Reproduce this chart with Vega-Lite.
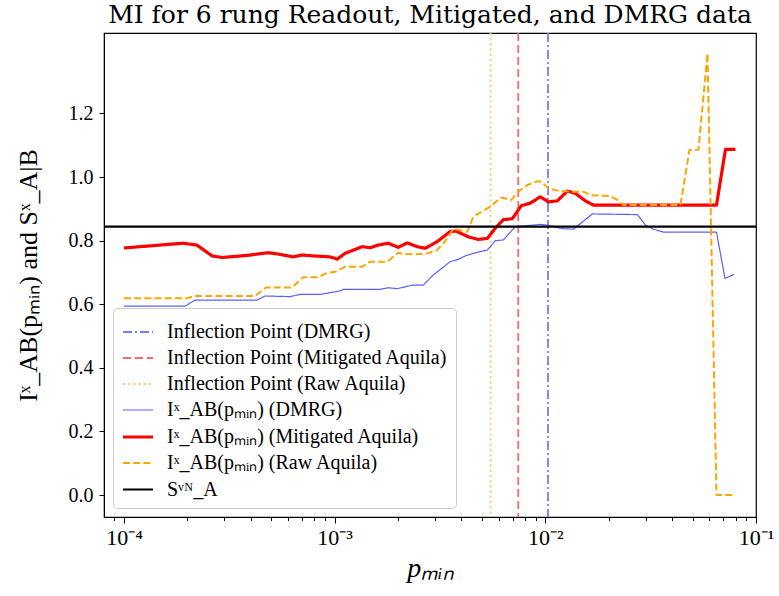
{
  "$schema": "https://vega.github.io/schema/vega-lite/v6.json",
  "autosize": {"type": "none"},
  "padding": {"left": 104, "top": 33, "right": 23, "bottom": 79},
  "width": 652,
  "height": 484,
  "background": "white",
  "title": {
    "text": "MI for 6 rung Readout, Mitigated, and DMRG data",
    "font": "DejaVu Serif",
    "fontSize": 25,
    "fontWeight": "normal",
    "color": "black",
    "offset": 4
  },
  "config": {
    "font": "Liberation Serif",
    "view": {"stroke": "black", "strokeWidth": 1.2},
    "axis": {
      "grid": false,
      "domainColor": "black",
      "tickColor": "black",
      "labelColor": "black",
      "titleColor": "black",
      "labelFont": "Liberation Serif",
      "titleFont": "Liberation Serif",
      "labelFontSize": 20,
      "titleFontWeight": "normal",
      "labelOverlap": false,
      "labelFlush": false
    },
    "legend": {
      "orient": "bottom-left",
      "offset": 9,
      "fillColor": "white",
      "strokeColor": "#cccccc",
      "cornerRadius": 4,
      "padding": 8,
      "labelFont": "Liberation Serif",
      "labelFontSize": 20,
      "labelColor": "black",
      "labelLimit": 0,
      "symbolType": "stroke",
      "symbolSize": 900,
      "labelOffset": 12,
      "rowPadding": -3
    }
  },
  "datasets": {
    "inflection": [
      {"series": "Inflection Point (DMRG)", "p": 0.0103},
      {"series": "Inflection Point (Mitigated Aquila)", "p": 0.00744},
      {"series": "Inflection Point (Raw Aquila)", "p": 0.0055}
    ],
    "entropy": [
      {"series": "Sᵛᴺ_A", "v": 0.844}
    ],
    "curves": [
      {"series": "Iˣ_AB(pₘᵢₙ) (DMRG)", "p": 0.0001, "v": 0.594},
      {"series": "Iˣ_AB(pₘᵢₙ) (DMRG)", "p": 0.000195, "v": 0.594},
      {"series": "Iˣ_AB(pₘᵢₙ) (DMRG)", "p": 0.000217, "v": 0.613},
      {"series": "Iˣ_AB(pₘᵢₙ) (DMRG)", "p": 0.000428, "v": 0.613},
      {"series": "Iˣ_AB(pₘᵢₙ) (DMRG)", "p": 0.000468, "v": 0.626},
      {"series": "Iˣ_AB(pₘᵢₙ) (DMRG)", "p": 0.000614, "v": 0.624},
      {"series": "Iˣ_AB(pₘᵢₙ) (DMRG)", "p": 0.000686, "v": 0.631},
      {"series": "Iˣ_AB(pₘᵢₙ) (DMRG)", "p": 0.000854, "v": 0.631},
      {"series": "Iˣ_AB(pₘᵢₙ) (DMRG)", "p": 0.001062, "v": 0.642},
      {"series": "Iˣ_AB(pₘᵢₙ) (DMRG)", "p": 0.001098, "v": 0.647},
      {"series": "Iˣ_AB(pₘᵢₙ) (DMRG)", "p": 0.001646, "v": 0.647},
      {"series": "Iˣ_AB(pₘᵢₙ) (DMRG)", "p": 0.001796, "v": 0.652},
      {"series": "Iˣ_AB(pₘᵢₙ) (DMRG)", "p": 0.001981, "v": 0.649},
      {"series": "Iˣ_AB(pₘᵢₙ) (DMRG)", "p": 0.002334, "v": 0.66},
      {"series": "Iˣ_AB(pₘᵢₙ) (DMRG)", "p": 0.002633, "v": 0.66},
      {"series": "Iˣ_AB(pₘᵢₙ) (DMRG)", "p": 0.002937, "v": 0.692},
      {"series": "Iˣ_AB(pₘᵢₙ) (DMRG)", "p": 0.003539, "v": 0.734},
      {"series": "Iˣ_AB(pₘᵢₙ) (DMRG)", "p": 0.003862, "v": 0.741},
      {"series": "Iˣ_AB(pₘᵢₙ) (DMRG)", "p": 0.00417, "v": 0.752},
      {"series": "Iˣ_AB(pₘᵢₙ) (DMRG)", "p": 0.00455, "v": 0.76},
      {"series": "Iˣ_AB(pₘᵢₙ) (DMRG)", "p": 0.00502, "v": 0.767},
      {"series": "Iˣ_AB(pₘᵢₙ) (DMRG)", "p": 0.005302, "v": 0.77},
      {"series": "Iˣ_AB(pₘᵢₙ) (DMRG)", "p": 0.005788, "v": 0.8},
      {"series": "Iˣ_AB(pₘᵢₙ) (DMRG)", "p": 0.006318, "v": 0.802},
      {"series": "Iˣ_AB(pₘᵢₙ) (DMRG)", "p": 0.0072, "v": 0.844},
      {"series": "Iˣ_AB(pₘᵢₙ) (DMRG)", "p": 0.009468, "v": 0.851},
      {"series": "Iˣ_AB(pₘᵢₙ) (DMRG)", "p": 0.01022, "v": 0.849},
      {"series": "Iˣ_AB(pₘᵢₙ) (DMRG)", "p": 0.01204, "v": 0.838},
      {"series": "Iˣ_AB(pₘᵢₙ) (DMRG)", "p": 0.01358, "v": 0.836},
      {"series": "Iˣ_AB(pₘᵢₙ) (DMRG)", "p": 0.01672, "v": 0.884},
      {"series": "Iˣ_AB(pₘᵢₙ) (DMRG)", "p": 0.02736, "v": 0.882},
      {"series": "Iˣ_AB(pₘᵢₙ) (DMRG)", "p": 0.02986, "v": 0.849},
      {"series": "Iˣ_AB(pₘᵢₙ) (DMRG)", "p": 0.03259, "v": 0.836},
      {"series": "Iˣ_AB(pₘᵢₙ) (DMRG)", "p": 0.03636, "v": 0.827},
      {"series": "Iˣ_AB(pₘᵢₙ) (DMRG)", "p": 0.06494, "v": 0.827},
      {"series": "Iˣ_AB(pₘᵢₙ) (DMRG)", "p": 0.07124, "v": 0.681},
      {"series": "Iˣ_AB(pₘᵢₙ) (DMRG)", "p": 0.07862, "v": 0.694},

      {"series": "Iˣ_AB(pₘᵢₙ) (Mitigated Aquila)", "p": 0.0001, "v": 0.777},
      {"series": "Iˣ_AB(pₘᵢₙ) (Mitigated Aquila)", "p": 0.000191, "v": 0.792},
      {"series": "Iˣ_AB(pₘᵢₙ) (Mitigated Aquila)", "p": 0.000222, "v": 0.786},
      {"series": "Iˣ_AB(pₘᵢₙ) (Mitigated Aquila)", "p": 0.000262, "v": 0.752},
      {"series": "Iˣ_AB(pₘᵢₙ) (Mitigated Aquila)", "p": 0.000292, "v": 0.747},
      {"series": "Iˣ_AB(pₘᵢₙ) (Mitigated Aquila)", "p": 0.000388, "v": 0.754},
      {"series": "Iˣ_AB(pₘᵢₙ) (Mitigated Aquila)", "p": 0.000483, "v": 0.762},
      {"series": "Iˣ_AB(pₘᵢₙ) (Mitigated Aquila)", "p": 0.000539, "v": 0.758},
      {"series": "Iˣ_AB(pₘᵢₙ) (Mitigated Aquila)", "p": 0.000635, "v": 0.749},
      {"series": "Iˣ_AB(pₘᵢₙ) (Mitigated Aquila)", "p": 0.000701, "v": 0.755},
      {"series": "Iˣ_AB(pₘᵢₙ) (Mitigated Aquila)", "p": 0.00079, "v": 0.752},
      {"series": "Iˣ_AB(pₘᵢₙ) (Mitigated Aquila)", "p": 0.000952, "v": 0.749},
      {"series": "Iˣ_AB(pₘᵢₙ) (Mitigated Aquila)", "p": 0.001028, "v": 0.742},
      {"series": "Iˣ_AB(pₘᵢₙ) (Mitigated Aquila)", "p": 0.001121, "v": 0.76},
      {"series": "Iˣ_AB(pₘᵢₙ) (Mitigated Aquila)", "p": 0.001351, "v": 0.781},
      {"series": "Iˣ_AB(pₘᵢₙ) (Mitigated Aquila)", "p": 0.001475, "v": 0.778},
      {"series": "Iˣ_AB(pₘᵢₙ) (Mitigated Aquila)", "p": 0.00161, "v": 0.786},
      {"series": "Iˣ_AB(pₘᵢₙ) (Mitigated Aquila)", "p": 0.001796, "v": 0.792},
      {"series": "Iˣ_AB(pₘᵢₙ) (Mitigated Aquila)", "p": 0.002003, "v": 0.779},
      {"series": "Iˣ_AB(pₘᵢₙ) (Mitigated Aquila)", "p": 0.002211, "v": 0.793},
      {"series": "Iˣ_AB(pₘᵢₙ) (Mitigated Aquila)", "p": 0.002466, "v": 0.781},
      {"series": "Iˣ_AB(pₘᵢₙ) (Mitigated Aquila)", "p": 0.002691, "v": 0.776},
      {"series": "Iˣ_AB(pₘᵢₙ) (Mitigated Aquila)", "p": 0.003068, "v": 0.797},
      {"series": "Iˣ_AB(pₘᵢₙ) (Mitigated Aquila)", "p": 0.003539, "v": 0.829},
      {"series": "Iˣ_AB(pₘᵢₙ) (Mitigated Aquila)", "p": 0.003777, "v": 0.83},
      {"series": "Iˣ_AB(pₘᵢₙ) (Mitigated Aquila)", "p": 0.004307, "v": 0.812},
      {"series": "Iˣ_AB(pₘᵢₙ) (Mitigated Aquila)", "p": 0.004805, "v": 0.804},
      {"series": "Iˣ_AB(pₘᵢₙ) (Mitigated Aquila)", "p": 0.005302, "v": 0.807},
      {"series": "Iˣ_AB(pₘᵢₙ) (Mitigated Aquila)", "p": 0.005788, "v": 0.839},
      {"series": "Iˣ_AB(pₘᵢₙ) (Mitigated Aquila)", "p": 0.006318, "v": 0.866},
      {"series": "Iˣ_AB(pₘᵢₙ) (Mitigated Aquila)", "p": 0.006971, "v": 0.869},
      {"series": "Iˣ_AB(pₘᵢₙ) (Mitigated Aquila)", "p": 0.007691, "v": 0.91},
      {"series": "Iˣ_AB(pₘᵢₙ) (Mitigated Aquila)", "p": 0.008487, "v": 0.918},
      {"series": "Iˣ_AB(pₘᵢₙ) (Mitigated Aquila)", "p": 0.009468, "v": 0.938},
      {"series": "Iˣ_AB(pₘᵢₙ) (Mitigated Aquila)", "p": 0.01033, "v": 0.922},
      {"series": "Iˣ_AB(pₘᵢₙ) (Mitigated Aquila)", "p": 0.0114, "v": 0.925},
      {"series": "Iˣ_AB(pₘᵢₙ) (Mitigated Aquila)", "p": 0.01272, "v": 0.956},
      {"series": "Iˣ_AB(pₘᵢₙ) (Mitigated Aquila)", "p": 0.01388, "v": 0.949},
      {"series": "Iˣ_AB(pₘᵢₙ) (Mitigated Aquila)", "p": 0.01549, "v": 0.925},
      {"series": "Iˣ_AB(pₘᵢₙ) (Mitigated Aquila)", "p": 0.0169, "v": 0.912},
      {"series": "Iˣ_AB(pₘᵢₙ) (Mitigated Aquila)", "p": 0.06494, "v": 0.912},
      {"series": "Iˣ_AB(pₘᵢₙ) (Mitigated Aquila)", "p": 0.07164, "v": 1.087},
      {"series": "Iˣ_AB(pₘᵢₙ) (Mitigated Aquila)", "p": 0.07992, "v": 1.087},

      {"series": "Iˣ_AB(pₘᵢₙ) (Raw Aquila)", "p": 0.0001, "v": 0.619},
      {"series": "Iˣ_AB(pₘᵢₙ) (Raw Aquila)", "p": 0.000199, "v": 0.619},
      {"series": "Iˣ_AB(pₘᵢₙ) (Raw Aquila)", "p": 0.000217, "v": 0.626},
      {"series": "Iˣ_AB(pₘᵢₙ) (Raw Aquila)", "p": 0.000419, "v": 0.626},
      {"series": "Iˣ_AB(pₘᵢₙ) (Raw Aquila)", "p": 0.000473, "v": 0.653},
      {"series": "Iˣ_AB(pₘᵢₙ) (Raw Aquila)", "p": 0.000628, "v": 0.653},
      {"series": "Iˣ_AB(pₘᵢₙ) (Raw Aquila)", "p": 0.000709, "v": 0.685},
      {"series": "Iˣ_AB(pₘᵢₙ) (Raw Aquila)", "p": 0.000835, "v": 0.685},
      {"series": "Iˣ_AB(pₘᵢₙ) (Raw Aquila)", "p": 0.000921, "v": 0.699},
      {"series": "Iˣ_AB(pₘᵢₙ) (Raw Aquila)", "p": 0.001006, "v": 0.702},
      {"series": "Iˣ_AB(pₘᵢₙ) (Raw Aquila)", "p": 0.001121, "v": 0.718},
      {"series": "Iˣ_AB(pₘᵢₙ) (Raw Aquila)", "p": 0.001351, "v": 0.718},
      {"series": "Iˣ_AB(pₘᵢₙ) (Raw Aquila)", "p": 0.001475, "v": 0.734},
      {"series": "Iˣ_AB(pₘᵢₙ) (Raw Aquila)", "p": 0.001776, "v": 0.734},
      {"series": "Iˣ_AB(pₘᵢₙ) (Raw Aquila)", "p": 0.002003, "v": 0.762},
      {"series": "Iˣ_AB(pₘᵢₙ) (Raw Aquila)", "p": 0.002116, "v": 0.758},
      {"series": "Iˣ_AB(pₘᵢₙ) (Raw Aquila)", "p": 0.00236, "v": 0.757},
      {"series": "Iˣ_AB(pₘᵢₙ) (Raw Aquila)", "p": 0.002751, "v": 0.76},
      {"series": "Iˣ_AB(pₘᵢₙ) (Raw Aquila)", "p": 0.003068, "v": 0.77},
      {"series": "Iˣ_AB(pₘᵢₙ) (Raw Aquila)", "p": 0.003349, "v": 0.799},
      {"series": "Iˣ_AB(pₘᵢₙ) (Raw Aquila)", "p": 0.003656, "v": 0.836},
      {"series": "Iˣ_AB(pₘᵢₙ) (Raw Aquila)", "p": 0.003947, "v": 0.833},
      {"series": "Iˣ_AB(pₘᵢₙ) (Raw Aquila)", "p": 0.004261, "v": 0.828},
      {"series": "Iˣ_AB(pₘᵢₙ) (Raw Aquila)", "p": 0.00455, "v": 0.875},
      {"series": "Iˣ_AB(pₘᵢₙ) (Raw Aquila)", "p": 0.004911, "v": 0.888},
      {"series": "Iˣ_AB(pₘᵢₙ) (Raw Aquila)", "p": 0.005479, "v": 0.907},
      {"series": "Iˣ_AB(pₘᵢₙ) (Raw Aquila)", "p": 0.00618, "v": 0.936},
      {"series": "Iˣ_AB(pₘᵢₙ) (Raw Aquila)", "p": 0.006895, "v": 0.928},
      {"series": "Iˣ_AB(pₘᵢₙ) (Raw Aquila)", "p": 0.007441, "v": 0.954},
      {"series": "Iˣ_AB(pₘᵢₙ) (Raw Aquila)", "p": 0.008214, "v": 0.975},
      {"series": "Iˣ_AB(pₘᵢₙ) (Raw Aquila)", "p": 0.009163, "v": 0.987},
      {"series": "Iˣ_AB(pₘᵢₙ) (Raw Aquila)", "p": 0.009572, "v": 0.985},
      {"series": "Iˣ_AB(pₘᵢₙ) (Raw Aquila)", "p": 0.01033, "v": 0.965},
      {"series": "Iˣ_AB(pₘᵢₙ) (Raw Aquila)", "p": 0.01128, "v": 0.958},
      {"series": "Iˣ_AB(pₘᵢₙ) (Raw Aquila)", "p": 0.01314, "v": 0.954},
      {"series": "Iˣ_AB(pₘᵢₙ) (Raw Aquila)", "p": 0.01516, "v": 0.954},
      {"series": "Iˣ_AB(pₘᵢₙ) (Raw Aquila)", "p": 0.01636, "v": 0.943},
      {"series": "Iˣ_AB(pₘᵢₙ) (Raw Aquila)", "p": 0.02037, "v": 0.94},
      {"series": "Iˣ_AB(pₘᵢₙ) (Raw Aquila)", "p": 0.02198, "v": 0.928},
      {"series": "Iˣ_AB(pₘᵢₙ) (Raw Aquila)", "p": 0.02347, "v": 0.912},
      {"series": "Iˣ_AB(pₘᵢₙ) (Raw Aquila)", "p": 0.04378, "v": 0.912},
      {"series": "Iˣ_AB(pₘᵢₙ) (Raw Aquila)", "p": 0.04832, "v": 1.085},
      {"series": "Iˣ_AB(pₘᵢₙ) (Raw Aquila)", "p": 0.05332, "v": 1.086},
      {"series": "Iˣ_AB(pₘᵢₙ) (Raw Aquila)", "p": 0.05885, "v": 1.389},
      {"series": "Iˣ_AB(pₘᵢₙ) (Raw Aquila)", "p": 0.06494, "v": 0.0},
      {"series": "Iˣ_AB(pₘᵢₙ) (Raw Aquila)", "p": 0.07734, "v": 0.0}
    ]
  },
  "encoding": {
    "color": {
      "field": "series",
      "type": "nominal",
      "scale": {
        "domain": [
          "Inflection Point (DMRG)",
          "Inflection Point (Mitigated Aquila)",
          "Inflection Point (Raw Aquila)",
          "Iˣ_AB(pₘᵢₙ) (DMRG)",
          "Iˣ_AB(pₘᵢₙ) (Mitigated Aquila)",
          "Iˣ_AB(pₘᵢₙ) (Raw Aquila)",
          "Sᵛᴺ_A"
        ],
        "range": ["#7a7aff", "#f76a6a", "#ffc966", "#5f5fff", "#ff0000", "#ffa500", "#000000"]
      },
      "legend": {"title": null}
    },
    "strokeWidth": {
      "field": "series",
      "type": "nominal",
      "scale": {
        "type": "ordinal",
        "domain": [
          "Inflection Point (DMRG)",
          "Inflection Point (Mitigated Aquila)",
          "Inflection Point (Raw Aquila)",
          "Iˣ_AB(pₘᵢₙ) (DMRG)",
          "Iˣ_AB(pₘᵢₙ) (Mitigated Aquila)",
          "Iˣ_AB(pₘᵢₙ) (Raw Aquila)",
          "Sᵛᴺ_A"
        ],
        "range": [1.8, 1.8, 1.8, 1.2, 3.2, 2, 2.2]
      },
      "legend": {"title": null}
    },
    "strokeDash": {
      "field": "series",
      "type": "nominal",
      "scale": {
        "domain": [
          "Inflection Point (DMRG)",
          "Inflection Point (Mitigated Aquila)",
          "Inflection Point (Raw Aquila)",
          "Iˣ_AB(pₘᵢₙ) (DMRG)",
          "Iˣ_AB(pₘᵢₙ) (Mitigated Aquila)",
          "Iˣ_AB(pₘᵢₙ) (Raw Aquila)",
          "Sᵛᴺ_A"
        ],
        "range": [[9, 3, 2, 3], [8, 4], [2, 3.2], [1, 0], [1, 0], [7, 3.2], [1, 0]]
      },
      "legend": {"title": null}
    }
  },
  "layer": [
    {
      "data": {"name": "inflection"},
      "mark": {"type": "rule"},
      "encoding": {
        "x": {
          "field": "p",
          "type": "quantitative",
          "scale": {"type": "log", "domain": [0.0000804, 0.1], "nice": false}
        }
      }
    },
    {
      "data": {"name": "curves"},
      "mark": {"type": "line", "strokeJoin": "round", "strokeCap": "butt"},
      "encoding": {
        "x": {
          "field": "p",
          "type": "quantitative",
          "scale": {"type": "log", "domain": [0.0000804, 0.1], "nice": false},
          "axis": {
            "title": "pₘᵢₙ",
            "titleFontSize": 28,
            "titleFontStyle": "italic",
            "titlePadding": 6,
            "labelFontSize": 22,
            "values": [0.00009, 0.0001, 0.0002, 0.0003, 0.0004, 0.0005, 0.0006, 0.0007, 0.0008, 0.0009, 0.001, 0.002, 0.003, 0.004, 0.005, 0.006, 0.007, 0.008, 0.009, 0.01, 0.02, 0.03, 0.04, 0.05, 0.06, 0.07, 0.08, 0.09, 0.1],
            "labelExpr": "abs(log(datum.value)/LN10 - round(log(datum.value)/LN10)) > 0.001 ? '' : round(log(datum.value)/LN10) == -4 ? '10⁻⁴' : round(log(datum.value)/LN10) == -3 ? '10⁻³' : round(log(datum.value)/LN10) == -2 ? '10⁻²' : '10⁻¹'",
            "tickSize": {
              "condition": {"test": "abs(log(datum.value)/LN10 - round(log(datum.value)/LN10)) < 0.001", "value": 6},
              "value": 3.5
            },
            "labelPadding": 4
          }
        },
        "y": {
          "field": "v",
          "type": "quantitative",
          "scale": {"domain": [-0.069, 1.453], "nice": false, "zero": false},
          "axis": {
            "title": "Iˣ_AB(pₘᵢₙ) and Sˣ_A|B",
            "titleFontSize": 26,
            "titlePadding": 27,
            "values": [0, 0.2, 0.4, 0.6, 0.8, 1.0, 1.2],
            "format": ".1f",
            "tickSize": 5,
            "labelPadding": 6
          }
        }
      }
    },
    {
      "data": {"name": "entropy"},
      "mark": {"type": "rule"},
      "encoding": {
        "y": {
          "field": "v",
          "type": "quantitative",
          "scale": {"domain": [-0.069, 1.453], "nice": false, "zero": false}
        }
      }
    }
  ]
}
